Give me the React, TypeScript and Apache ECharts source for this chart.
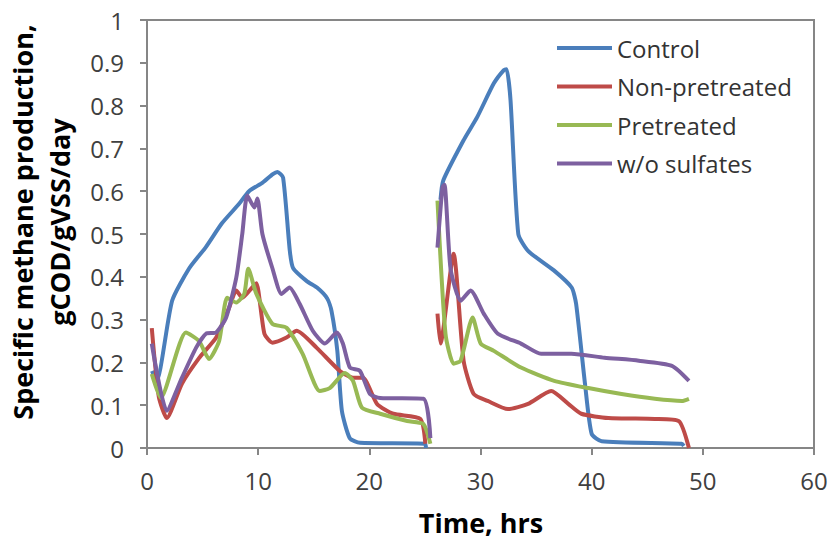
import React, { useEffect, useRef } from "react";
import * as echarts from "echarts";

const seriesNames = ["Control", "Non-pretreated", "Pretreated", "w/o sulfates"];
const seriesColors = ["#4A7EBB", "#BE4B48", "#98B954", "#7D60A0"];
const xTicks = [0, 10, 20, 30, 40, 50, 60];

// Control
const controlTime = [0.45, 0.87, 2.26, 3.8, 5.31, 6.74, 8.27, 9.18, 10.4, 11.32, 11.73, 12.24, 12.85, 13.15, 14.37, 15.29, 16.2, 16.6, 17.12, 17.53, 18.24, 19.16, 25.0, 25.1, 25.8, 26.4, 26.65, 28.5, 29.7, 31.2, 32.1, 32.35, 32.7, 33.4, 34.3, 36.6, 38.2, 38.6, 39.4, 40.0, 40.9, 48.1, 48.3];
const controlRate = [0.18, 0.157, 0.344, 0.42, 0.47, 0.525, 0.57, 0.6, 0.62, 0.64, 0.645, 0.632, 0.46, 0.42, 0.39, 0.375, 0.35, 0.32, 0.227, 0.087, 0.023, 0.012, 0.01, 0.0, null, 0.58, 0.625, 0.72, 0.773, 0.852, 0.883, 0.885, 0.813, 0.5, 0.46, 0.415, 0.375, 0.337, 0.15, 0.033, 0.016, 0.01, 0.005];

// Non-pretreated
const nonPreTime = [0.43, 1.06, 1.78, 3.14, 4.68, 6.22, 7.39, 8.03, 8.57, 9.47, 9.84, 10.56, 11.28, 12.55, 13.46, 15.27, 17.35, 18.53, 19.43, 20.69, 22.15, 24.59, 25.04, 25.6, 26.13, 26.4, 27.58, 28.48, 29.39, 30.65, 32.47, 34.28, 36.36, 37.9, 39.07, 41.5, 45.68, 47.84, 48.75];
const nonPreRate = [0.28, 0.12, 0.07, 0.15, 0.21, 0.258, 0.328, 0.368, 0.351, 0.375, 0.385, 0.267, 0.246, 0.258, 0.274, 0.234, 0.18, 0.164, 0.164, 0.103, 0.08, 0.068, 0.01, null, 0.314, 0.244, 0.454, 0.204, 0.126, 0.11, 0.091, 0.103, 0.133, 0.103, 0.08, 0.07, 0.068, 0.063, 0.0];

// Pretreated
const preTime = [0.43, 1.24, 3.5, 4.68, 5.58, 6.49, 7.21, 8.03, 8.75, 9.11, 9.84, 11.28, 12.55, 14.0, 15.54, 16.44, 17.8, 18.53, 19.34, 20.97, 23.41, 24.86, 25.49, 25.8, 26.13, 26.85, 27.58, 28.21, 29.29, 30.02, 31.2, 33.64, 36.63, 39.7, 42.69, 45.68, 48.12, 48.75];
const preRate = [0.173, 0.117, 0.27, 0.25, 0.208, 0.25, 0.351, 0.34, 0.36, 0.419, 0.36, 0.29, 0.281, 0.22, 0.133, 0.14, 0.175, 0.157, 0.094, 0.08, 0.063, 0.056, 0.01, null, 0.578, 0.267, 0.197, 0.204, 0.305, 0.244, 0.227, 0.188, 0.157, 0.14, 0.126, 0.115, 0.11, 0.115];

// w/o sulfates
const noSulfTime = [0.43, 1.78, 3.14, 4.41, 5.31, 6.22, 7.12, 8.03, 8.57, 9.02, 9.66, 9.93, 10.38, 11.28, 12.1, 12.82, 13.73, 14.91, 16.0, 17.08, 17.62, 18.25, 19.16, 20.06, 20.97, 24.86, 25.49, 25.8, 26.13, 26.58, 26.76, 27.3, 28.21, 29.11, 30.29, 31.56, 33.64, 35.45, 38.17, 41.16, 44.24, 47.22, 48.75];
const noSulfRate = [0.244, 0.087, 0.164, 0.234, 0.267, 0.27, 0.305, 0.398, 0.5, 0.59, 0.562, 0.583, 0.5, 0.42, 0.36, 0.375, 0.337, 0.274, 0.244, 0.27, 0.244, 0.188, 0.18, 0.126, 0.117, 0.115, 0.023, null, 0.468, 0.609, 0.615, 0.42, 0.344, 0.368, 0.314, 0.267, 0.244, 0.22, 0.22, 0.211, 0.204, 0.192, 0.157];

const allTimes = [controlTime, nonPreTime, preTime, noSulfTime];
const allRates = [controlRate, nonPreRate, preRate, noSulfRate];

const FONT = '"Open Sans", "Noto Sans", sans-serif';

export default function App() {
  const ref = useRef<HTMLDivElement>(null);
  useEffect(() => {
    if (!ref.current) return;
    const chart = echarts.init(ref.current, undefined, { renderer: "svg" });
    const series = seriesNames.map((name, i) => ({
      name,
      type: "line",
      data: allTimes[i].map((t, j) => [t, allRates[i][j] === null ? "-" : allRates[i][j]]),
      showSymbol: false,
      symbol: "none",
      smooth: 0.2,
      connectNulls: false,
      lineStyle: { color: seriesColors[i], width: 4 },
      itemStyle: { color: seriesColors[i] },
      z: 2 + i,
    }));
    chart.setOption({
      animation: false,
      backgroundColor: "#ffffff",
      grid: {
        left: 147,
        right: 19,
        top: 20,
        bottom: 94,
        show: true,
        borderColor: "#868686",
        borderWidth: 2,
        backgroundColor: "transparent",
      },
      legend: {
        data: seriesNames,
        orient: "vertical",
        left: 552,
        top: 31,
        icon: "rect",
        itemWidth: 55,
        itemHeight: 4,
        itemGap: 14.5,
        textStyle: { fontFamily: FONT, fontSize: 24, color: "#333333" },
      },
      xAxis: {
        type: "value",
        min: xTicks[0],
        max: xTicks[xTicks.length - 1],
        interval: 10,
        splitLine: { show: false },
        axisLine: { show: true, lineStyle: { color: "#868686", width: 2 } },
        axisTick: { show: true, inside: false, length: 7, lineStyle: { color: "#868686", width: 2 } },
        axisLabel: { fontFamily: FONT, fontSize: 24, color: "#404040", margin: 20 },
      },
      yAxis: {
        type: "value",
        min: 0,
        max: 1,
        interval: 0.1,
        splitLine: { show: false },
        axisLine: { show: true, lineStyle: { color: "#868686", width: 2 } },
        axisTick: { show: true, inside: false, length: 7, lineStyle: { color: "#868686", width: 2 } },
        axisLabel: { fontFamily: FONT, fontSize: 24, color: "#404040", margin: 23 },
      },
      graphic: [
        {
          type: "text",
          x: 41,
          y: 222,
          rotation: Math.PI / 2,
          style: {
            text: "Specific methane production,\ngCOD/gVSS/day",
            font: `bold 27px ${FONT}`,
            textAlign: "center",
            textVerticalAlign: "middle",
            lineHeight: 37,
            fill: "#000000",
          },
        },
        {
          type: "text",
          x: 481,
          y: 522,
          style: {
            text: "Time, hrs",
            font: `bold 27px ${FONT}`,
            textAlign: "center",
            textVerticalAlign: "middle",
            fill: "#000000",
          },
        },
      ],
      series,
    });
    return () => chart.dispose();
  }, []);
  return (
    <div
      ref={ref}
      style={{ position: "fixed", left: 0, top: 0, width: 833, height: 542, background: "#fff" }}
    />
  );
}
